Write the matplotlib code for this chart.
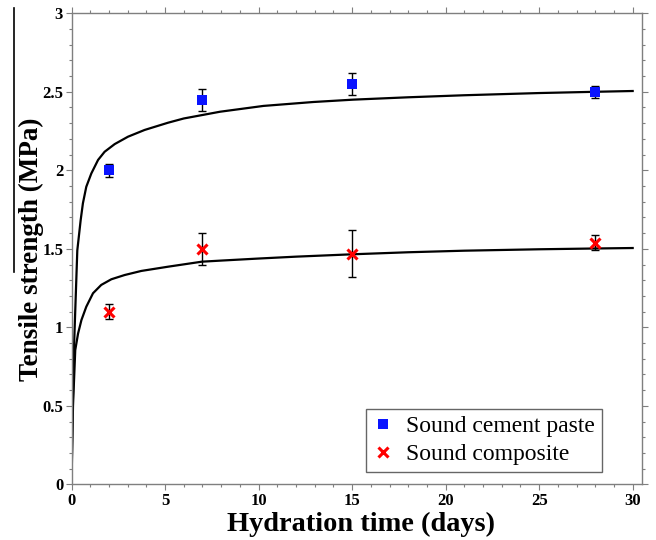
import matplotlib
matplotlib.use("Agg")
import matplotlib.pyplot as plt
from matplotlib.lines import Line2D
from matplotlib.ticker import MultipleLocator, FuncFormatter

plt.rcParams['font.family'] = ['Liberation Serif', 'DejaVu Serif']

# measured data
days = [2, 7, 15, 28]
paste_mean = [2.00, 2.45, 2.55, 2.50]
paste_err = [0.04, 0.07, 0.07, 0.04]
comp_mean = [1.10, 1.50, 1.47, 1.54]
comp_err = [0.05, 0.10, 0.15, 0.05]

# fitted curves
paste_fit_t = [0, 0.05, 0.13, 0.31, 0.49, 0.61, 0.79, 1.06, 1.42, 1.77, 2.31, 3.02, 3.91, 5.16,
               6.0, 7.94, 10.26, 12.93, 15.07, 18.0, 21.0, 25.0, 28.0, 30.0]
paste_fit_y = [0, 0.40, 0.86, 1.49, 1.683, 1.79, 1.895, 1.98, 2.066, 2.118, 2.167, 2.214, 2.257, 2.303,
               2.33, 2.373, 2.41, 2.435, 2.45, 2.465, 2.478, 2.492, 2.50, 2.505]
comp_fit_t = [0, 0.08, 0.2, 0.35, 0.53, 0.79, 1.15, 1.59, 2.13, 2.84, 3.73, 5.16, 6.97, 8.0,
              10.0, 12.0, 15.0, 18.0, 21.0, 25.0, 28.0, 30.0]
comp_fit_y = [0, 0.50, 0.855, 0.96, 1.046, 1.131, 1.217, 1.27, 1.306, 1.333, 1.359, 1.386, 1.418, 1.425,
              1.438, 1.450, 1.465, 1.478, 1.488, 1.497, 1.502, 1.505]

xticks = [0, 5, 10, 15, 20, 25, 30]
yticks = [0, 0.5, 1, 1.5, 2, 2.5, 3]

fig = plt.figure(figsize=(6.56, 5.40), dpi=100)
ax = fig.add_axes([0.109, 0.1031, 0.8697, 0.8723])

ax.plot(paste_fit_t, paste_fit_y, color='black', lw=1.6, zorder=2, solid_joinstyle='round')
ax.plot(comp_fit_t, comp_fit_y, color='black', lw=1.6, zorder=2, solid_joinstyle='round')

ax.errorbar(days, paste_mean, yerr=paste_err, fmt='none', ecolor='black', elinewidth=1.0,
            capsize=3, capthick=1.0, zorder=3)
ax.errorbar(days, comp_mean, yerr=comp_err, fmt='none', ecolor='black', elinewidth=1.0,
            capsize=3, capthick=1.0, zorder=3)
ax.plot(days, paste_mean, linestyle='none', marker='s', markersize=7.5, color='#0a14ff',
        markeredgewidth=0, zorder=4)
ax.plot(days, comp_mean, linestyle='none', marker='x', markersize=7, color='#ff0000',
        markeredgewidth=2.2, zorder=4)

ax.set_xlim(0, 30.5)
ax.set_ylim(0, 3)
ax.set_xticks(xticks)
ax.set_yticks(yticks)
ax.xaxis.set_minor_locator(MultipleLocator(1))
ax.yaxis.set_minor_locator(MultipleLocator(0.1))
ax.yaxis.set_major_formatter(FuncFormatter(lambda v, p: ('%g' % v)))

spine_col = '#7f7f7f'
for s in ax.spines.values():
    s.set_color(spine_col)
    s.set_linewidth(1.0)
ax.tick_params(which='both', direction='out', top=True, right=True, color=spine_col,
               labelsize=12, pad=1.5)
ax.tick_params(which='major', length=4.5, width=0.8)
ax.tick_params(which='minor', length=2.5, width=0.8)
for lbl in ax.get_xticklabels() + ax.get_yticklabels():
    lbl.set_fontweight('bold')

ax.set_xlabel('Hydration time (days)', fontsize=20.4, fontweight='bold')
ax.xaxis.set_label_coords(0.507, -0.058, transform=ax.transAxes)
ax.xaxis.label.set_va('top')
ax.set_ylabel('Tensile strength (MPa)', fontsize=19.5, fontweight='bold', labelpad=-1)

handles = [Line2D([], [], linestyle='none', marker='s', markersize=7, color='#0a14ff', markeredgewidth=0),
           Line2D([], [], linestyle='none', marker='x', markersize=6.5, color='#ff0000', markeredgewidth=2.2)]
leg = ax.legend(handles, ['Sound cement paste', 'Sound composite'], loc='lower right',
                bbox_to_anchor=(0.93, 0.026), borderaxespad=0, fontsize=17, frameon=True,
                fancybox=False, edgecolor='#666666', framealpha=1, handlelength=0.8,
                handletextpad=0.6, borderpad=0.3, labelspacing=0.26)
leg.get_frame().set_linewidth(1.0)

# stray vertical line at the left edge of the picture
fig.add_artist(Line2D([14 / 656, 14 / 656], [1 - 8 / 540, 1 - 272 / 540], color='black', lw=1.2))

fig.savefig('out.png', dpi=100)
